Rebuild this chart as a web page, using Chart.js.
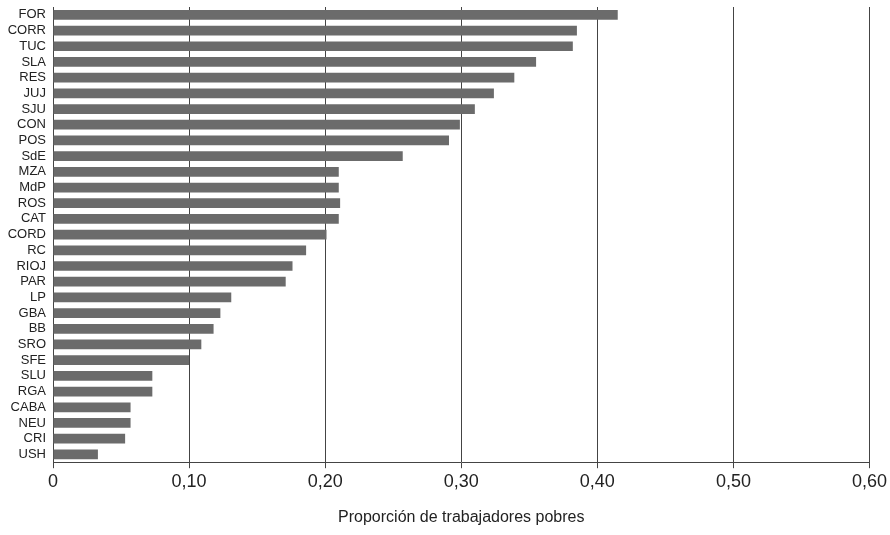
<!DOCTYPE html><html><head><meta charset="utf-8">
<script src="https://cdn.jsdelivr.net/npm/chart.js@4/dist/chart.umd.min.js"></script>
<style>body{margin:0;background:#fff}#w{width:890px;height:535px}</style></head><body><div id="w"><canvas id="c"></canvas></div>
<script>
const categories=["FOR","CORR","TUC","SLA","RES","JUJ","SJU","CON","POS","SdE","MZA","MdP","ROS","CAT","CORD","RC","RIOJ","PAR","LP","GBA","BB","SRO","SFE","SLU","RGA","CABA","NEU","CRI","USH"];
const values=[0.415,0.385,0.382,0.355,0.339,0.324,0.310,0.299,0.291,0.257,0.210,0.210,0.211,0.210,0.201,0.186,0.176,0.171,0.131,0.123,0.118,0.109,0.100,0.073,0.073,0.057,0.057,0.053,0.033];
const xTicks=[0,0.1,0.2,0.3,0.4,0.5,0.6];
const F="'Liberation Sans',Arial,sans-serif";
new Chart(document.getElementById('c'),{type:'bar',
data:{labels:categories,datasets:[{data:values,backgroundColor:'#6b6b6b',barPercentage:0.62,categoryPercentage:1}]},
options:{indexAxis:'y',responsive:true,maintainAspectRatio:false,animation:false,
layout:{padding:{top:7,right:20,left:0,bottom:4}},
plugins:{legend:{display:false},tooltip:{enabled:false}},
scales:{
x:{min:0,max:0.6,afterBuildTicks:a=>{a.ticks=xTicks.map(v=>({value:v}))},
grid:{color:'#444',lineWidth:1,drawTicks:true,tickLength:6,tickColor:'#444'},border:{color:'#444'},
ticks:{color:'#222',font:{family:F,size:18},callback:v=>v===0?'0':v.toFixed(2).replace('.',',')},
title:{display:true,text:'Proporción de trabajadores pobres',color:'#222',font:{family:F,size:16},padding:{top:12}}},
y:{afterFit:s=>{s.width=53;s.paddingTop=0;s.paddingBottom=0},grid:{display:false,drawTicks:true,tickLength:4},border:{color:'#444'},
ticks:{color:'#222',autoSkip:false,padding:3,font:{family:F,size:13}}}}}});
</script></body></html>
